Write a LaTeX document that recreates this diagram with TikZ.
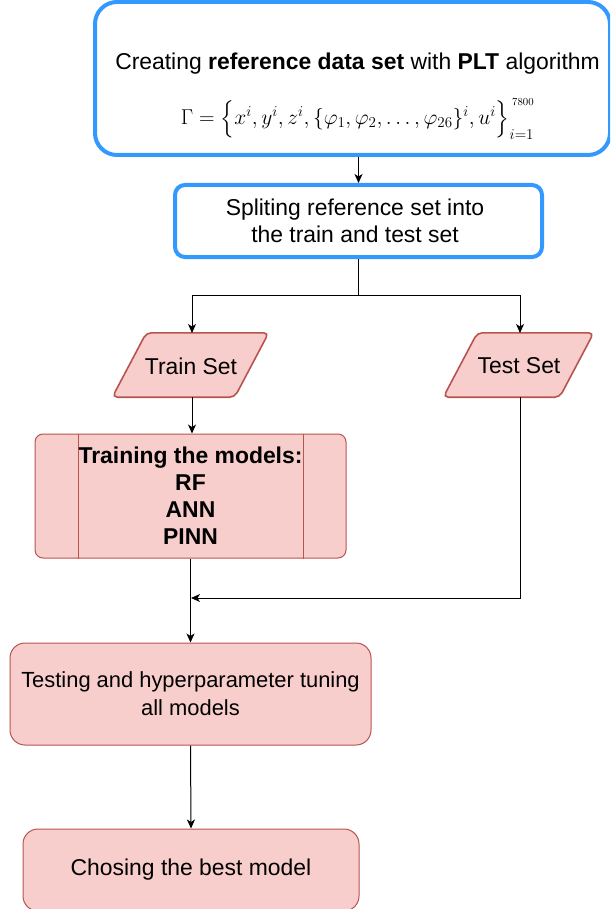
\RequirePackage{fix-cm}
\documentclass[tikz,border=0pt]{standalone}
\usepackage{amsmath}
\usepackage{fontspec}
\setmainfont{Liberation Sans}
\usetikzlibrary{arrows.meta,calc}
\definecolor{bstroke}{RGB}{51,153,255}
\definecolor{rfill}{HTML}{F8CECC}
\definecolor{rstroke}{HTML}{B85450}
\tikzset{
  bluebox/.style={draw=bstroke, line width=4pt, fill=white, rounded corners=#1, inner sep=0pt},
  redbox/.style={draw=rstroke, line width=1pt, fill=rfill, rounded corners=#1, inner sep=0pt},
  lbl/.style={font=\fontsize{22.9}{27}\selectfont, align=center, inner sep=0pt},
  conn/.style={line width=1pt, draw=black},
  arr/.style={conn, -{Stealth[length=9pt,width=8pt,inset=2.5pt]}},
}
\begin{document}
\begin{tikzpicture}[x=1pt,y=-1pt]
\clip (0,0) rectangle (610,909);
\fill[white] (0,0) rectangle (610,909);

% Box 1
\node[bluebox=22pt, minimum width=515pt, minimum height=153pt] (box1) at (352.5,78.5) {};
\node[lbl] (t1) at (357.5,64) {Creating \textbf{reference data set} with \textbf{PLT} algorithm};
\node[inner sep=0pt, font=\fontsize{21.5}{26}\selectfont] (f1) at (357.5,119)
  {$\Gamma = \Bigl\{x^i, y^i, z^i, \{\varphi_1,\varphi_2,\ldots,\varphi_{26}\}^i, u^i\Bigr\}_{i=1}^{\,\scriptscriptstyle 7800}$};

% Box 2
\node[bluebox=10pt, minimum width=367pt, minimum height=72pt] (box2) at (358.5,221) {};
\node[lbl] (t2) at (355,221) {Spliting reference set into\\the train and test set};

% Train / Test parallelograms
\node[lbl, minimum width=122pt, minimum height=64pt] (train) at (190.5,365) {};
\path[redbox=5pt, line width=1.6pt] ([xshift=-17pt]train.south west) -- ([xshift=17pt]train.north west)
   -- ([xshift=17pt]train.north east) -- ([xshift=-17pt]train.south east) -- cycle;
\node[lbl] (traint) at (191,366) {Train Set};

\node[lbl, minimum width=116pt, minimum height=64pt] (test) at (518.5,365) {};
\path[redbox=5pt, line width=1.6pt] ([xshift=-17pt]test.south west) -- ([xshift=17pt]test.north west)
   -- ([xshift=17pt]test.north east) -- ([xshift=-17pt]test.south east) -- cycle;
\node[lbl] (testt) at (519,366) {Test Set};

% Training box
\node[redbox=8pt, minimum width=311pt, minimum height=124pt] (trn) at (190.5,496) {};
\draw[rstroke, line width=1pt] ([xshift=44pt]trn.north west) -- ([xshift=44pt]trn.south west);
\draw[rstroke, line width=1pt] ([xshift=-43pt]trn.north east) -- ([xshift=-43pt]trn.south east);
\node[lbl, font=\fontsize{22.9}{27}\selectfont\bfseries] (trnt) at (190.5,496) {Training the models:\\RF\\ANN\\PINN};

% Testing box
\node[redbox=15pt, minimum width=361pt, minimum height=102pt] (tst) at (190.5,694) {};
\node[lbl, font=\fontsize{21.9}{28}\selectfont] (tstt) at (190.5,694) {Testing and hyperparameter tuning\\all models};

% Best box
\node[redbox=15pt, minimum width=336pt, minimum height=82pt] (best) at (191,870) {};
\node[lbl] (bestt) at (191,870) {Chosing the best model};

% Connectors
\draw[arr] (box1.south -| box2.north) -- (box2.north);
\coordinate (sp) at (358,295);
\draw[conn] (box2.south -| sp) -- (sp);
\draw[arr] (sp) -| (192,333) coordinate (tn);
\draw[arr] (sp) -| (520,333) coordinate (sn);
\draw[arr] (192,397) -- (trn.north -| 192,0);
\draw[arr] (trn.south) -- (tst.north);
\coordinate (m) at (191,598);
\draw[arr] (520,397) |- (m);
\draw[arr] (tst.south) -- (best.north);
\end{tikzpicture}
\end{document}
